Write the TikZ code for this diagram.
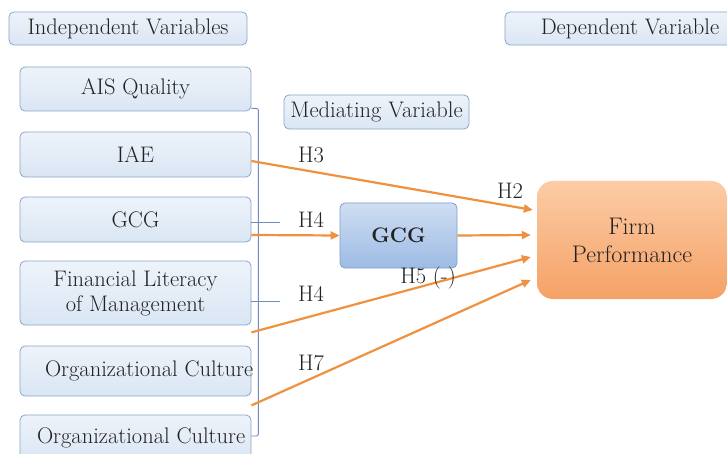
\documentclass[tikz,border=0pt]{standalone}
\usetikzlibrary{arrows.meta}
\definecolor{boxtop}{HTML}{EEF3FA}
\definecolor{boxbot}{HTML}{DAE6F4}
\definecolor{boxline}{HTML}{8AA6C8}
\definecolor{medtop}{HTML}{CFDEF2}
\definecolor{medbot}{HTML}{9DBBE4}
\definecolor{medline}{HTML}{7F9FCB}
\definecolor{fptop}{HTML}{FCCCA6}
\definecolor{fpbot}{HTML}{F5A166}
\definecolor{arr}{HTML}{F0913F}
\definecolor{brk}{HTML}{6E8FB8}
\definecolor{txt}{HTML}{222222}
\tikzset{
  every node/.style={font=\fontsize{22.5}{25}\selectfont, text=txt},
  varbox/.style={draw=boxline, line width=0.8pt, rounded corners=5pt, top color=boxtop, bottom color=boxbot, inner sep=0pt, align=center},
  medbox/.style={draw=medline, line width=0.8pt, rounded corners=5pt, top color=medtop, bottom color=medbot, inner sep=0pt},
  fpbox/.style={draw=none, rounded corners=16pt, top color=fptop, bottom color=fpbot, inner sep=0pt, align=center, font=\fontsize{24}{28}\selectfont},
  hyparrow/.style={draw=arr, line width=2.2pt, -{Triangle[length=9pt,width=8pt]}},
  bracket/.style={draw=brk, line width=0.9pt},
  hlabel/.style={inner sep=0pt}
}
\begin{document}
\begin{tikzpicture}[x=1pt,y=-1pt]
\useasboundingbox (0,0) rectangle (727,454);
\fill[white] (0,0) rectangle (727,454);
% headers
\node[varbox, minimum width=238pt, minimum height=33pt] (indep) at (128,28.5) {Independent Variables};
\node[varbox, minimum width=250pt, minimum height=33pt] (dep) at (630,28.5) {Dependent Variable};
\node[varbox, minimum width=185pt, minimum height=34pt] (medlab) at (376.5,112) {Mediating Variable};
% independent variables
\node[varbox, minimum width=231pt, minimum height=44pt] (ais) at (135.5,89) {AIS Quality};
\node[varbox, minimum width=231pt, minimum height=45pt] (iae) at (135.5,154.5) {IAE};
\node[varbox, minimum width=231pt, minimum height=45pt] (gcg) at (135.5,219.5) {GCG};
\node[varbox, minimum width=231pt, minimum height=64pt] (fin) at (135.5,293) {Financial Literacy\\of Management};
\node[varbox, minimum width=231pt, minimum height=50pt] (oc1) at (135.5,371) {\makebox[231pt][l]{\hspace*{25pt}Organizational Culture}};
\node[varbox, minimum width=231pt, minimum height=46pt] (oc2) at (135.5,438) {\makebox[231pt][l]{\hspace*{17pt}Organizational Culture}};
% mediator and dependent
\node[medbox, minimum width=117pt, minimum height=65pt, font=\fontsize{21}{24}\selectfont\bfseries] (med) at (398.5,235.5) {GCG};
\node[fpbox, minimum width=190pt, minimum height=118pt] (fp) at (632,240) {Firm\\Performance};
% bracket
\coordinate (btop) at ([yshift=3pt]ais.south east);
\coordinate (bbot) at ([yshift=2pt]oc2.east);
\draw[bracket, rounded corners=2pt] (btop) -- ++(7,0) |- (bbot);
\coordinate (t1a) at ([yshift=-2.5pt]gcg.east);
\coordinate (t2a) at ([yshift=-8pt]fin.east);
\draw[bracket] (t1a) -- ++(29,0) coordinate (t1b);
\draw[bracket] (t2a) -- ++(29,0) coordinate (t2b);
% arrows
\draw[hyparrow] ([yshift=-6.5pt]iae.east) -- ([yshift=30pt,xshift=-4pt]fp.west);
\draw[hyparrow] ([yshift=-15.5pt]gcg.east) -- (med.west);
\draw[hyparrow] (med.east) -- ([yshift=5pt,xshift=-6pt]fp.west);
\draw[hyparrow] ([yshift=-7pt]fin.south east) -- ([yshift=-17pt,xshift=-6pt]fp.west);
\draw[hyparrow] ([yshift=-9pt]oc1.south east) -- ([yshift=-40pt,xshift=-6pt]fp.west);
% labels
\node[hlabel] (h3) at (311,155) {H3};
\node[hlabel] (h2) at (510,191) {H2};
\node[hlabel] (h4a) at (311,220) {H4};
\node[hlabel] (h5) at (428,278) {H5 (-)};
\node[hlabel] (h4b) at (311,294) {H4};
\node[hlabel] (h7) at (311,363) {H7};
\end{tikzpicture}
\end{document}
